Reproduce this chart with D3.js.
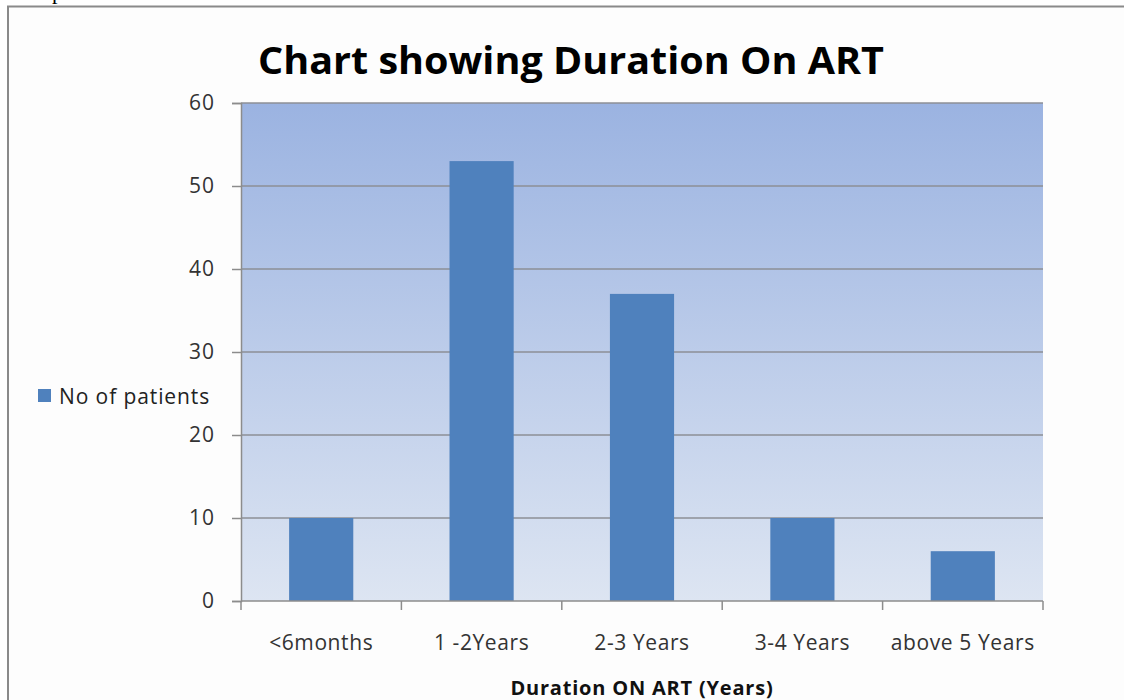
<!DOCTYPE html>
<html>
<head>
<meta charset="utf-8">
<script src="https://cdn.jsdelivr.net/npm/d3@7"></script>
<style>
body { margin: 0; background: #fff; }
svg { display: block; }
</style>
</head>
<body>
<div id="chart"></div>
<script>
// data
var categories = ["<6months", "1 -2Years", "2-3 Years", "3-4 Years", "above 5 Years"];
var patients = [10, 53, 37, 10, 6];
var yTicks = [0, 10, 20, 30, 40, 50, 60];
var seriesName = "No of patients";

var width = 1124;
var height = 700;
var plot = {left: 241, right: 1043, top: 103, bottom: 601};
var font = "'Open Sans', Lato, sans-serif";

var svg = d3.select("#chart")
	.append("svg")
	.attr("width", width)
	.attr("height", height);

// page border (box runs off the right / bottom)
svg.append("rect")
	.attr("x", 8).attr("y", 6.5)
	.attr("width", 1140).attr("height", 720)
	.attr("fill", "#fdfdfd")
	.attr("stroke", "#8a8a8a")
	.attr("stroke-width", 2);

// stray glyph from the text above
svg.append("text")
	.attr("x", 52).attr("y", -1)
	.attr("font-family", "'Liberation Serif', serif")
	.attr("font-size", 22)
	.text("p");

var defs = svg.append("defs");
var grad = defs.append("linearGradient")
	.attr("id", "bg")
	.attr("x1", 0).attr("y1", 0).attr("x2", 0).attr("y2", 1);
grad.append("stop").attr("offset", "0%").attr("stop-color", "#9bb3e1");
grad.append("stop").attr("offset", "100%").attr("stop-color", "#dde5f2");

var xScale = d3.scaleBand()
	.domain(categories)
	.range([plot.left, plot.right]);

var yScale = d3.scaleLinear()
	.domain([0, 60])
	.range([plot.bottom, plot.top]);

svg.append("rect")
	.attr("x", plot.left).attr("y", plot.top)
	.attr("width", plot.right - plot.left)
	.attr("height", plot.bottom - plot.top)
	.attr("fill", "url(#bg)");

// gridlines
svg.append("g")
	.selectAll("line")
	.data(yTicks.filter(function(d){ return d > 0; }))
	.enter()
	.append("line")
	.attr("x1", plot.left).attr("x2", plot.right)
	.attr("y1", function(d){ return yScale(d); })
	.attr("y2", function(d){ return yScale(d); })
	.attr("stroke", "#8c8f96")
	.attr("stroke-width", 1.5);

// bars
var barW = xScale.bandwidth() * 0.4;
svg.selectAll("rect.bar")
	.data(patients)
	.enter()
	.append("rect")
	.attr("class", "bar")
	.attr("x", function(d, i){ return xScale(categories[i]) + (xScale.bandwidth() - barW) / 2; })
	.attr("y", function(d){ return yScale(d); })
	.attr("width", barW)
	.attr("height", function(d){ return yScale(0) - yScale(d); })
	.attr("fill", "#4f81bd");

// y axis
var yAxis = d3.axisLeft(yScale).tickValues(yTicks).tickSize(9).tickPadding(17);
var gy = svg.append("g")
	.attr("transform", "translate(" + plot.left + ",0)")
	.call(yAxis);
gy.select(".domain").attr("stroke", "#8c8c8c").attr("stroke-width", 1.5);
gy.selectAll(".tick line").attr("stroke", "#8c8c8c").attr("stroke-width", 1.5);
gy.selectAll(".tick text")
	.attr("font-family", font)
	.attr("font-size", 21)
	.attr("letter-spacing", 1)
	.attr("fill", "#333");

// x axis: ticks sit on the band edges
var edges = categories.map(function(c){ return xScale(c); }).concat([plot.right]);
svg.append("line")
	.attr("x1", plot.left).attr("x2", plot.right)
	.attr("y1", plot.bottom).attr("y2", plot.bottom)
	.attr("stroke", "#8c8c8c").attr("stroke-width", 1.5);
svg.append("g")
	.selectAll("line")
	.data(edges)
	.enter()
	.append("line")
	.attr("x1", function(d){ return d; }).attr("x2", function(d){ return d; })
	.attr("y1", plot.bottom).attr("y2", plot.bottom + 9)
	.attr("stroke", "#8c8c8c").attr("stroke-width", 1.5);

svg.append("g")
	.selectAll("text")
	.data(categories)
	.enter()
	.append("text")
	.attr("x", function(d){ return xScale(d) + xScale.bandwidth() / 2; })
	.attr("y", 650)
	.attr("text-anchor", "middle")
	.attr("font-family", font)
	.attr("font-size", 21)
	.attr("letter-spacing", 0.6)
	.attr("fill", "#333")
	.text(function(d){ return d; });

// titles
svg.append("text")
	.attr("x", 571).attr("y", 74)
	.attr("text-anchor", "middle")
	.attr("font-family", font)
	.attr("font-weight", "bold")
	.attr("font-size", 38)
	.attr("textLength", 626)
	.attr("lengthAdjust", "spacingAndGlyphs")
	.text("Chart showing Duration On ART");

svg.append("text")
	.attr("x", 642).attr("y", 695)
	.attr("text-anchor", "middle")
	.attr("font-family", font)
	.attr("font-weight", "bold")
	.attr("font-size", 20)
	.attr("letter-spacing", 0.8)
	.attr("fill", "#111")
	.text("Duration ON ART (Years)");

// legend
svg.append("rect")
	.attr("x", 38).attr("y", 389)
	.attr("width", 13).attr("height", 13)
	.attr("fill", "#4f81bd");
svg.append("text")
	.attr("x", 59).attr("y", 404)
	.attr("font-family", font)
	.attr("font-size", 21)
	.attr("letter-spacing", 0.9)
	.attr("fill", "#222")
	.text(seriesName);
</script>
</body>
</html>
